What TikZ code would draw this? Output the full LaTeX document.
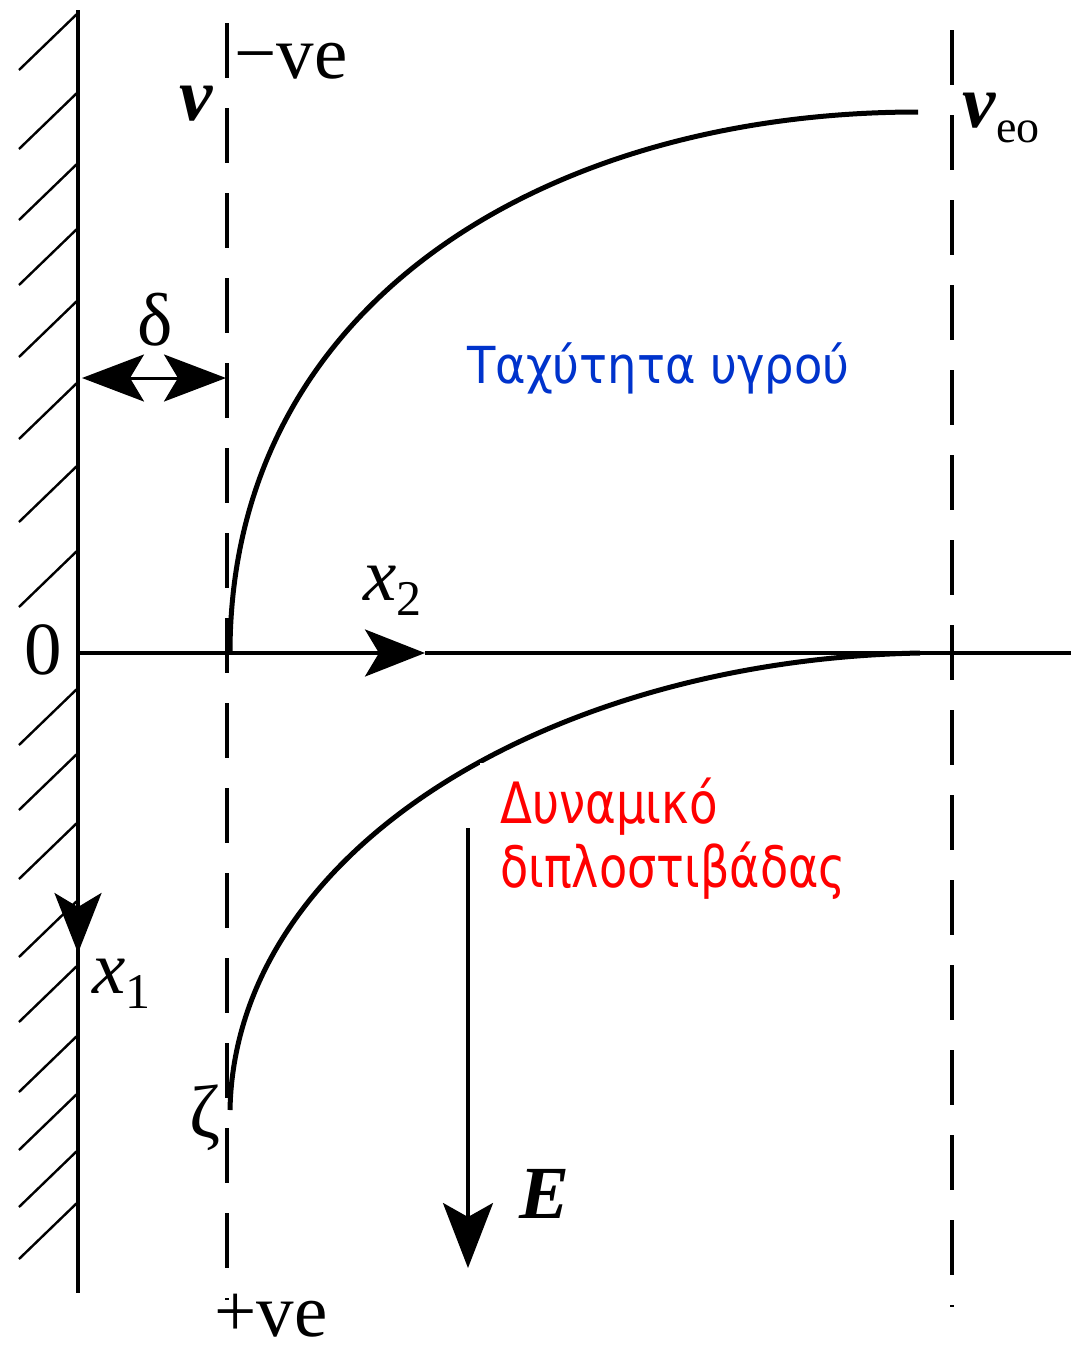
\documentclass[tikz,border=0pt]{standalone}
\usepackage{fontspec}
\setmainfont{Liberation Serif}
\newfontfamily\labfont{DejaVu Sans}
\usetikzlibrary{arrows.meta}
\definecolor{lblue}{RGB}{0,51,204}
\definecolor{lred}{RGB}{255,0,0}
\begin{document}
\begin{tikzpicture}[x=1pt,y=-1pt,
  wallline/.style={line width=4pt},
  hatchline/.style={line width=2.4pt},
  axisline/.style={line width=3.6pt},
  dashline/.style={line width=3.4pt,dash pattern=on 55pt off 30pt},
  curveline/.style={line width=5pt},
  lbl/.style={inner sep=0pt,font=\fontsize{75}{90}\selectfont},
  txtblue/.style={inner sep=0pt,text=lblue,font=\labfont\fontsize{51}{60}\selectfont},
  txtred/.style={inner sep=0pt,text=lred,font=\labfont\fontsize{57}{66}\selectfont}]
\useasboundingbox (0,0) rectangle (1071,1350);
\fill[white] (0,0) rectangle (1071,1350);
% coordinates
\coordinate (O) at (78,653);
\coordinate (wtop) at (78,10);
\coordinate (wbot) at (78,1293);
\coordinate (x1tip) at (78,953);
\coordinate (x2tip) at (425,653);
\coordinate (x2end) at (1071,653);
\coordinate (d1top) at (227,23);
\coordinate (d1bot) at (227,1300);
\coordinate (d2top) at (952,30);
\coordinate (d2bot) at (952,1307);
\coordinate (vs) at (230,653);
\coordinate (ve) at (918,112);
\coordinate (zs) at (230,1110);
\coordinate (ze) at (920,653);
\coordinate (Etop) at (468,828);
\coordinate (Etip) at (468,1268);
\coordinate (dL) at (82,378);
\coordinate (dR) at (226,378);
% wall
\draw[wallline] (wtop) -- (wbot);
\foreach \t in {13,92,163,228,300,382,465,550,688,753,822,900,965,1035,1093,1150,1202}
  \draw[hatchline] (78,\t) -- ++(-59,57);
% axes
\draw[axisline,-{Stealth[length=60pt,width=47pt,inset=14pt]}] (O) -- (x2tip);
\draw[axisline] (x2tip) -- (x2end);
\draw[axisline,-{Stealth[length=60pt,width=47pt,inset=14pt]}] (O) -- (x1tip);
% dashed lines
\draw[dashline] (d1top) -- (d1bot);
\draw[dashline] (d2top) -- (d2bot);
% curves
\draw[curveline] (vs) .. controls (230,300) and (550,112) .. (ve);
\draw[curveline] (zs) .. controls (235,850) and (550,660) .. (ze);
% delta arrow
\draw[line width=3pt,{Stealth[length=62pt,width=47pt,inset=14pt]}-{Stealth[length=62pt,width=47pt,inset=14pt]}] (dL) -- (dR);
% E arrow
\draw[line width=3.4pt,-{Stealth[length=65pt,width=50pt,inset=14pt]}] (Etop) -- (Etip);
% labels
\node[lbl] (vlab) at (196,104) {\textbf{\textit{v}}};
\node[lbl,anchor=base west] (neg) at (234,78) {−ve};
\node[lbl,anchor=base west] (pos) at (214,1336) {+ve};
\node[lbl,anchor=base west] (veo) at (962,127) {\textbf{\textit{v}}\raisebox{-0.2em}{\fontsize{46}{50}\selectfont eo}};
\node[lbl] (dlab) at (155,320) {δ};
\node[lbl] (zlab) at (205,1118) {ζ};
\node[lbl] (olab) at (43,650) {0};
\node[lbl,anchor=base west] (x2lab) at (363,600) {\textit{x}\raisebox{-0.2em}{\fontsize{50}{55}\selectfont 2}};
\node[lbl,anchor=base west] (x1lab) at (92,993) {\textit{x}\raisebox{-0.2em}{\fontsize{50}{55}\selectfont 1}};
\node[lbl] (Elab) at (545,1194) {\textbf{\textit{E}}};
\node[txtblue,anchor=base west] (vel) at (467,383) {\scalebox{0.91}[1]{Ταχύτητα υγρού}};
\fill[white] (480,763) rectangle (905,912);
\node[txtred,anchor=base west] (potA) at (500,823) {\scalebox{0.82}[1]{Δυναμικό}};
\node[txtred,anchor=base west] (potB) at (500,887) {\scalebox{0.81}[1]{διπλοστιβάδας}};
\end{tikzpicture}
\end{document}
